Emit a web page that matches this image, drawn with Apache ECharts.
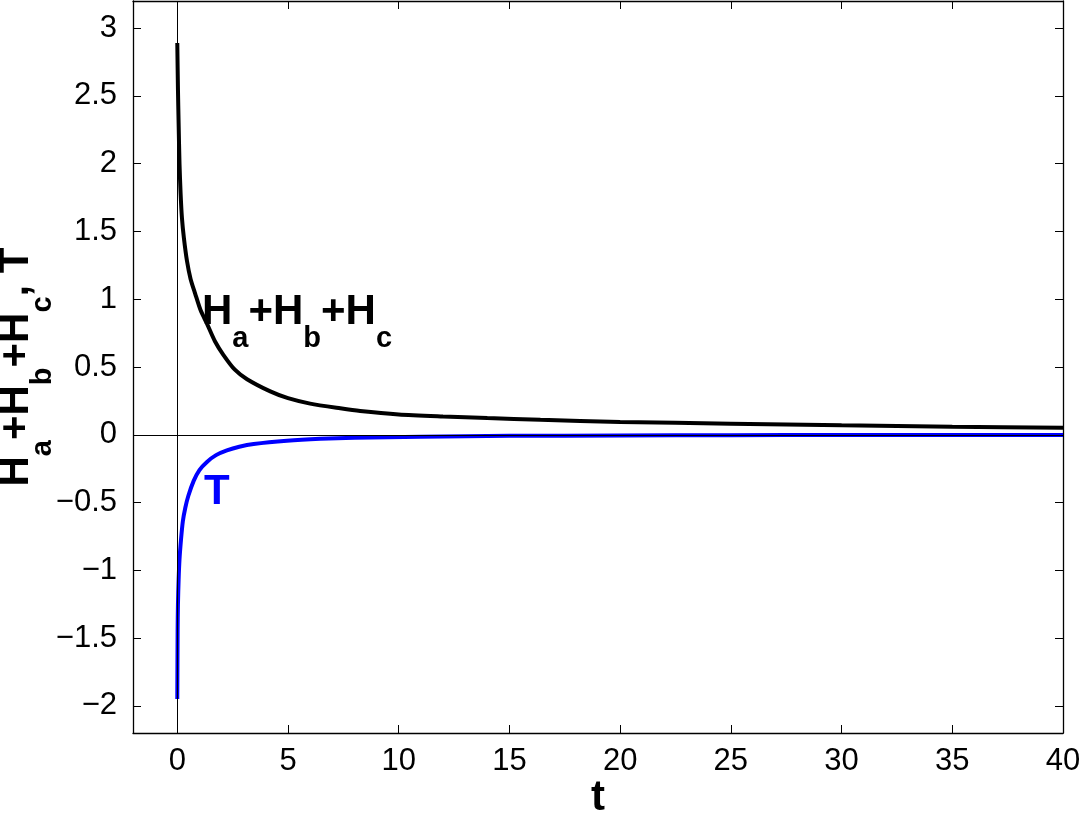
<!DOCTYPE html>
<html>
<head>
<meta charset="utf-8">
<title>Ha+Hb+Hc, T</title>
<script src="https://cdn.jsdelivr.net/npm/echarts@6/dist/echarts.min.js"></script>
<style>
  html, body { margin: 0; padding: 0; background: #fff; }
  #chart { width: 1082px; height: 813px; }
</style>
</head>
<body>
<div id="chart"></div>
<script>
// values
var hTimes = [0, 0.03, 0.06, 0.1, 0.15, 0.21, 0.3, 0.44, 0.6, 0.81, 1.05, 1.34, 1.7, 2.08, 2.6, 3.15, 4.2, 5, 6, 7.36, 8.26, 10, 12, 14, 16.4, 20, 25, 30, 35, 40];
var hSum   = [2.89, 2.55, 2.3, 2.0, 1.78, 1.6, 1.45, 1.28, 1.15, 1.04, 0.92, 0.82, 0.69, 0.59, 0.48, 0.41, 0.32, 0.27, 0.23, 0.195, 0.175, 0.15, 0.135, 0.123, 0.11, 0.095, 0.082, 0.07, 0.06, 0.052];
var tTimes = [0, 0.015, 0.03, 0.06, 0.1, 0.17, 0.25, 0.36, 0.5, 0.74, 1.0, 1.34, 1.75, 2.24, 2.8, 3.45, 4.95, 6.46, 8, 11, 15, 20, 25, 30, 40];
var tVals  = [-1.95, -1.45, -1.25, -1.07, -0.92, -0.77, -0.64, -0.54, -0.45, -0.34, -0.26, -0.2, -0.15, -0.115, -0.088, -0.068, -0.044, -0.03, -0.022, -0.014, -0.008, -0.005, -0.003, -0.002, -0.001];

var FONT = 'Liberation Sans';

function pairs(xs, ys) {
    return xs.map(function (x, i) { return [x, ys[i]]; });
}
function minus(v) {
    return String(v).replace('-', '\u2212');
}

var subRich = {
    H: { fontFamily: FONT, fontSize: 42, fontWeight: 'bold', lineHeight: 42, verticalAlign: 'top', color: '#000' },
    s: { fontFamily: FONT, fontSize: 29, fontWeight: 'bold', lineHeight: 29, padding: [33, 0, 0, 0], verticalAlign: 'top', color: '#000' }
};

var tickStyle = { show: true, inside: true, length: 8, lineStyle: { color: '#000', width: 1 } };
var lineStyle = { show: true, onZero: false, lineStyle: { color: '#000', width: 1.3 } };

var myChart = echarts.init(document.getElementById('chart'));
myChart.setOption({
    animation: false,
    backgroundColor: '#fff',
    grid: { left: 133, right: 19, top: 1, bottom: 80, outerBoundsMode: 'none' },
    xAxis: [
        {
            type: 'value', min: -2, max: 40, splitNumber: 8,
            axisLine: lineStyle, axisTick: tickStyle, splitLine: { show: false },
            axisLabel: { fontFamily: FONT, fontSize: 31, color: '#000', margin: 13, showMinLabel: false, formatter: minus },
            name: 't', nameLocation: 'middle', nameGap: 44, nameMoveOverlap: false,
            nameTextStyle: { fontFamily: FONT, fontSize: 42, fontWeight: 'bold', color: '#000' }
        },
        {
            type: 'value', position: 'top', min: -2, max: 40, splitNumber: 8,
            axisLine: lineStyle, axisTick: tickStyle, splitLine: { show: false }, axisLabel: { show: false }
        }
    ],
    yAxis: [
        {
            type: 'value', min: -2.2, max: 3.2, splitNumber: 10,
            axisLine: lineStyle, axisTick: tickStyle, splitLine: { show: false },
            axisLabel: { fontFamily: FONT, fontSize: 31, color: '#000', margin: 16, showMinLabel: false, showMaxLabel: false, formatter: minus },
            name: '{H|H}{s|a}{H|+H}{s|b}{H|+H}{s|c}{H|, T}',
            nameLocation: 'middle', nameGap: 96, nameRotate: 90, nameMoveOverlap: false,
            nameTextStyle: { rich: subRich }
        },
        {
            type: 'value', position: 'right', min: -2.2, max: 3.2, splitNumber: 10,
            axisLine: lineStyle, axisTick: tickStyle, splitLine: { show: false }, axisLabel: { show: false }
        }
    ],
    series: [
        {
            name: 'Ha+Hb+Hc', type: 'line', data: pairs(hTimes, hSum),
            showSymbol: false, smooth: 0.25,
            lineStyle: { color: '#000', width: 4 },
            markLine: {
                silent: true, symbol: 'none', label: { show: false },
                lineStyle: { color: '#000', width: 1, type: 'solid' },
                data: [{ xAxis: 0 }, { yAxis: 0 }]
            },
            z: 3
        },
        {
            name: 'T', type: 'line', data: pairs(tTimes, tVals),
            showSymbol: false, smooth: 0.25,
            lineStyle: { color: '#0000ff', width: 4 },
            z: 3
        }
    ],
    graphic: [
        {
            type: 'text', left: 202, top: 291, z: 10,
            style: { text: '{H|H}{s|a}{H|+H}{s|b}{H|+H}{s|c}', rich: subRich }
        },
        {
            type: 'text', left: 204, top: 471, z: 10,
            style: { text: 'T', fontFamily: FONT, fontSize: 42, fontWeight: 'bold', fill: '#0000ff' }
        }
    ]
});
</script>
</body>
</html>
